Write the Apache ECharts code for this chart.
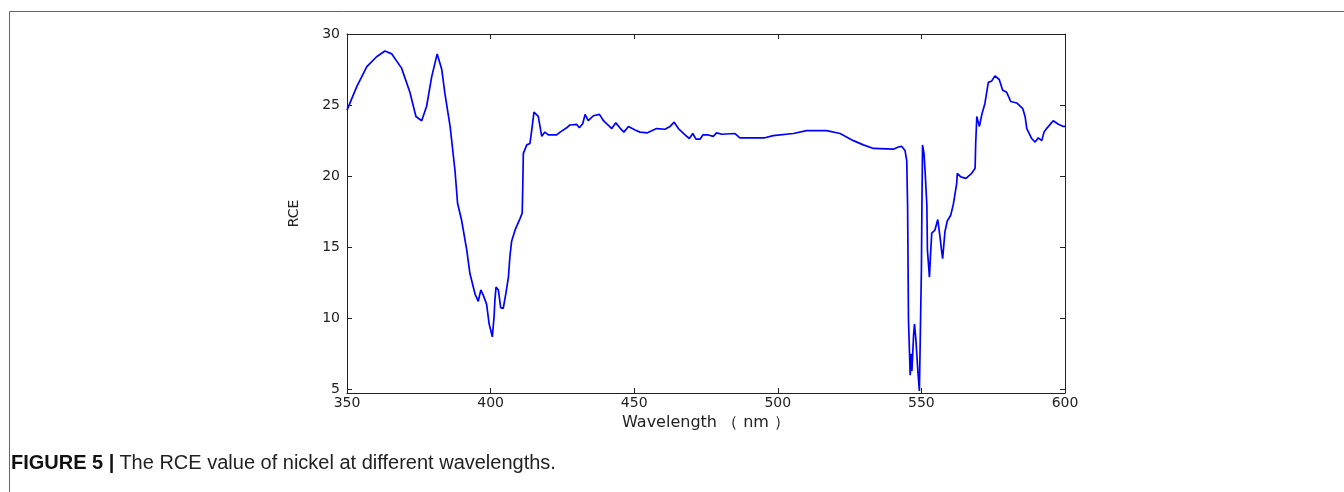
<!DOCTYPE html>
<html>
<head>
<meta charset="utf-8">
<script src="https://cdn.jsdelivr.net/npm/echarts@6/dist/echarts.min.js"></script>
<style>
  html, body { margin: 0; padding: 0; background: #fff; }
  #chart { width: 1344px; height: 492px; }
</style>
</head>
<body>
<div id="chart"></div>
<script>
// wavelength (nm) and RCE value
const wavelengths = [
  350, 353.4, 356.9, 360.3, 363.2, 365.6, 369, 371.9, 374, 376, 377.7, 379.5, 381.4, 383, 384.1, 385.9,
  387.6, 388.5, 389.9, 391.7, 392.8, 394.6, 395.7, 396.6, 397.5, 398.6, 399.5, 400.6, 401.2, 401.5, 401.9,
  402.7, 403.5, 404.4, 405.4, 406.2, 406.7, 407.3, 408.5, 410.2, 411, 411.2, 411.4, 412.6, 413.7, 414.3,
  415.1, 416.6, 417.2, 417.8, 418.9, 420.1, 423, 424.2, 426.5, 427.6, 430, 430.9, 432.1, 432.9, 434,
  435.8, 437.9, 439.3, 442.2, 443.6, 445, 446.4, 448, 450.3, 452, 454.6, 457.8, 460.7, 462.5, 463.9,
  465.4, 467.7, 469.2, 470.4, 471.5, 472.9, 473.9, 475.8, 477.5, 478.7, 480.5, 485.1, 486.8, 495.5,
  498.4, 505.4, 510, 517, 521.7, 526.3, 529.8, 533.3, 540.2, 542, 543.1, 544.3, 544.9, 545.2, 545.5,
  546.1, 546.5, 546.7, 547.3, 547.6, 548.1, 548.4, 548.8, 549.3, 549.9, 550, 550.2, 550.4, 550.9, 551.3,
  551.9, 552.1, 552.4, 552.8, 553.2, 553.6, 554.7, 555.7, 556.5, 557, 557.4, 558.2, 559, 560.2, 561.1,
  562.3, 562.5, 563.7, 565.5, 567.5, 568.7, 568.9, 569.3, 569.8, 570.2, 571, 571.6, 572.1, 572.7, 573.3,
  574.5, 575.6, 577.1, 578.3, 579.7, 581.1, 583.2, 585.3, 586.1, 586.7, 588.4, 589.6, 590.7, 591.9,
  592.7, 593.8, 595.9, 597.7, 599.4, 600
]
const rce = [
  24.65, 26.3, 27.7, 28.4, 28.8, 28.6, 27.6, 25.9, 24.2, 23.9, 24.9, 27.0, 28.6, 27.5, 25.8, 23.5,
  20.4, 18.1, 16.9, 14.8, 13.15, 11.7, 11.2, 12.0, 11.6, 11.0, 9.6, 8.7, 10.1, 11.3, 12.2,
  12.0, 10.75, 10.7, 11.85, 12.9, 14.3, 15.4, 16.2, 17.0, 17.4, 19.25, 21.6, 22.2, 22.3, 23.2,
  24.5, 24.2, 23.5, 22.8, 23.1, 22.9, 22.9, 23.1, 23.4, 23.6, 23.64, 23.4, 23.7, 24.35, 23.9,
  24.25, 24.35, 23.9, 23.35, 23.75, 23.4, 23.1, 23.5, 23.25, 23.1, 23.05, 23.35, 23.3, 23.5, 23.8,
  23.35, 22.9, 22.65, 23.0, 22.6, 22.6, 22.9, 22.9, 22.8, 23.05, 22.95, 23.0, 22.7, 22.7,
  22.85, 23.0, 23.2, 23.2, 23.0, 22.5, 22.2, 21.95, 21.9, 22.05, 22.1, 21.8, 21.1, 17.8, 9.9,
  6.0, 7.5, 6.3, 8.9, 9.6, 8.45, 8.45, 6.2, 4.9, 4.8, 13.4, 18.3, 22.2, 21.6, 20.3,
  17.95, 14.8, 14.7, 12.9, 14.55, 16.0, 16.2, 16.95, 15.7, 14.8, 14.2, 16.1, 16.85, 17.25, 18.0,
  19.5, 20.2, 19.95, 19.85, 20.2, 20.55, 22.3, 24.2, 23.8, 23.5, 24.3, 24.75, 25.1, 25.2, 26.6,
  26.7, 27.05, 26.8, 26.05, 25.9, 25.25, 25.15, 24.75, 24.2, 23.35, 22.65, 22.4, 22.7, 22.5,
  23.1, 23.4, 23.9, 23.65, 23.5, 23.5
]
const yTicks = [5, 10, 15, 20, 25, 30]

const axisColor = '#222'
const tickFont = { fontFamily: 'DejaVu Sans', fontSize: 14, color: '#222' }

const chart = echarts.init(document.getElementById('chart'))
const baseX = {
  type: 'value',
  min: 350,
  max: 600,
  interval: 50,
  axisLine: { show: true, onZero: false, lineStyle: { color: axisColor, width: 1 } },
  axisTick: { show: true, inside: true, length: 5, lineStyle: { color: axisColor } },
  splitLine: { show: false }
}
const baseY = {
  type: 'value',
  min: 4.75,
  max: 30,
  axisLine: { show: true, onZero: false, lineStyle: { color: axisColor, width: 1 } },
  axisTick: { show: true, inside: true, length: 5, customValues: yTicks, lineStyle: { color: axisColor } },
  splitLine: { show: false }
}

chart.setOption({
  animation: false,
  grid: { left: 347, top: 34, width: 718, height: 359, containLabel: false },
  title: {
    left: 6,
    top: 448,
    text: '{b|FIGURE 5 |} {n|The RCE value of nickel at different wavelengths.}',
    textStyle: {
      rich: {
        b: { fontFamily: 'Liberation Sans', fontWeight: 'bold', fontSize: 20, color: '#111' },
        n: { fontFamily: 'Liberation Sans', fontWeight: 'normal', fontSize: 20, color: '#222' }
      }
    }
  },
  graphic: [{
    type: 'rect',
    shape: { x: 9.5, y: 11.5, width: 1400, height: 600 },
    style: { fill: 'none', stroke: '#666', lineWidth: 1 },
    silent: true
  }],
  xAxis: [
    Object.assign({}, baseX, {
      position: 'bottom',
      name: 'Wavelength （ nm ）',
      nameLocation: 'middle',
      nameGap: 22,
      nameTextStyle: { fontFamily: 'DejaVu Sans', fontSize: 16, color: '#222' },
      axisLabel: Object.assign({ margin: 3 }, tickFont)
    }),
    Object.assign({}, baseX, { position: 'top', axisLabel: { show: false } })
  ],
  yAxis: [
    Object.assign({}, baseY, {
      position: 'left',
      name: 'RCE',
      nameLocation: 'middle',
      nameGap: 46,
      nameTextStyle: { fontFamily: 'DejaVu Sans', fontSize: 14, color: '#222' },
      axisLabel: Object.assign({ margin: 7, customValues: yTicks }, tickFont)
    }),
    Object.assign({}, baseY, { position: 'right', axisLabel: { show: false } })
  ],
  series: [{
    type: 'line',
    xAxisIndex: 0,
    yAxisIndex: 0,
    data: wavelengths.map((w, i) => [w, rce[i]]),
    showSymbol: false,
    lineStyle: { color: '#0000ff', width: 1.7 }
  }]
})
</script>
</body>
</html>
